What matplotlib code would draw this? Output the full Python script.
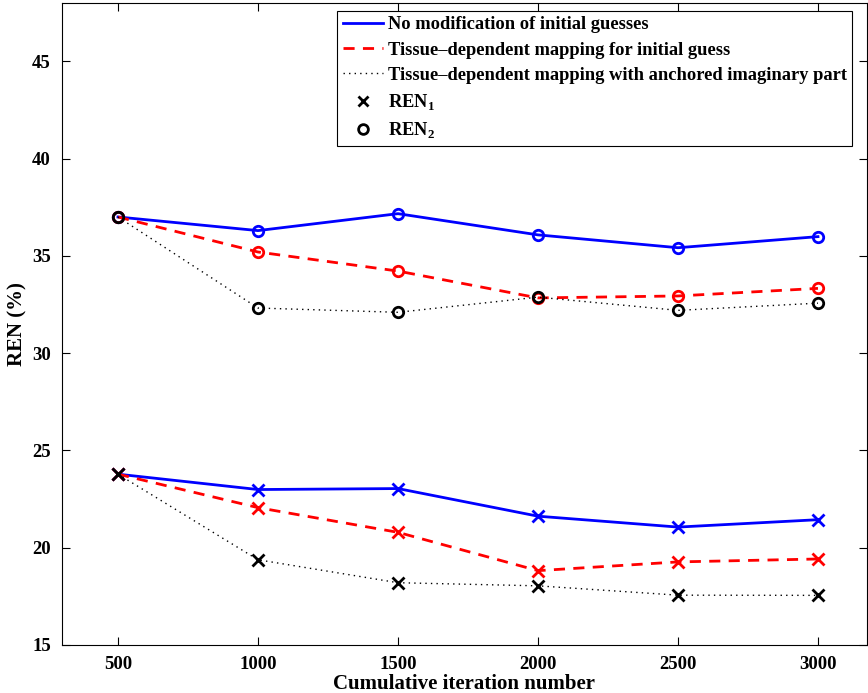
import matplotlib
matplotlib.use('Agg')
import matplotlib.pyplot as plt
from matplotlib.lines import Line2D

plt.rcParams['font.family'] = 'Liberation Serif'
plt.rcParams['font.weight'] = 'bold'
plt.rcParams['mathtext.fontset'] = 'custom'
plt.rcParams['mathtext.rm'] = 'Liberation Serif:bold'
plt.rcParams['mathtext.bf'] = 'Liberation Serif:bold'

iterations = [500, 1000, 1500, 2000, 2500, 3000]

# REN2 (circles)
ren2_nomod = [37.0, 36.3, 37.17, 36.08, 35.42, 35.99]
ren2_mapping = [37.0, 35.2, 34.22, 32.84, 32.94, 33.33]
ren2_anchored = [37.0, 32.32, 32.1, 32.88, 32.2, 32.57]

# REN1 (crosses)
ren1_nomod = [23.78, 22.99, 23.04, 21.62, 21.06, 21.44]
ren1_mapping = [23.78, 22.06, 20.79, 18.82, 19.27, 19.42]
ren1_anchored = [23.78, 19.38, 18.2, 18.04, 17.56, 17.55]

labels = ['No modification of initial guesses',
          'Tissue\u2013dependent mapping for initial guess',
          'Tissue\u2013dependent mapping with anchored imaginary part']

fig = plt.figure(figsize=(8.68, 6.93), dpi=100)
ax = fig.add_axes([0.0714, 0.0693, 0.9274, 0.9264])

dotted = (0, (1, 3))
styles = [('b', '-', 2.0), ('r', (0, (4, 3)), 2.0), ('k', dotted, 1.0)]
for (c, ls, lw), y1, y2 in zip(styles,
                               [ren1_nomod, ren1_mapping, ren1_anchored],
                               [ren2_nomod, ren2_mapping, ren2_anchored]):
    ax.plot(iterations, y2, color=c, ls=ls, lw=lw, marker='o', ms=7.5,
            mfc='none', mec=c, mew=2)
    ax.plot(iterations, y1, color=c, ls=ls, lw=lw, marker='x', ms=8,
            mec=c, mew=2)

ax.set_xlim(300, 3175)
ax.set_ylim(15, 48)
ax.set_xticks(iterations)
ax.set_yticks([15, 20, 25, 30, 35, 40, 45])
ax.tick_params(direction='in', top=True, right=True, labelsize=13.5, length=6,
               width=0.8, pad=8)
for lab in ax.get_xticklabels() + ax.get_yticklabels():
    lab.set_fontweight('bold')
ax.set_xlabel('Cumulative iteration number', fontsize=15, fontweight='bold',
              labelpad=1)
ax.set_ylabel('REN (%)', fontsize=15, fontweight='bold', labelpad=3)

handles = [Line2D([], [], color='b', ls='-', lw=2),
           Line2D([], [], color='r', ls=(0, (4, 3)), lw=2),
           Line2D([], [], color='k', ls=dotted, lw=1),
           Line2D([], [], color='k', ls='none', marker='x', ms=7, mew=2),
           Line2D([], [], color='k', ls='none', marker='o', ms=7, mfc='none', mew=2)]
leg = ax.legend(handles, labels + [r'REN$_\mathbf{1}$', r'REN$_\mathbf{2}$'],
                loc='upper right', bbox_to_anchor=(0.982, 0.988),
                fancybox=False, edgecolor='k', framealpha=1,
                prop={'family': 'Liberation Serif', 'weight': 'bold', 'size': 13.3},
                handlelength=2.2, handletextpad=0.25, labelspacing=0.45,
                borderpad=0.3, borderaxespad=0)
leg.get_frame().set_linewidth(0.8)

fig.savefig('out.png', dpi=100)
